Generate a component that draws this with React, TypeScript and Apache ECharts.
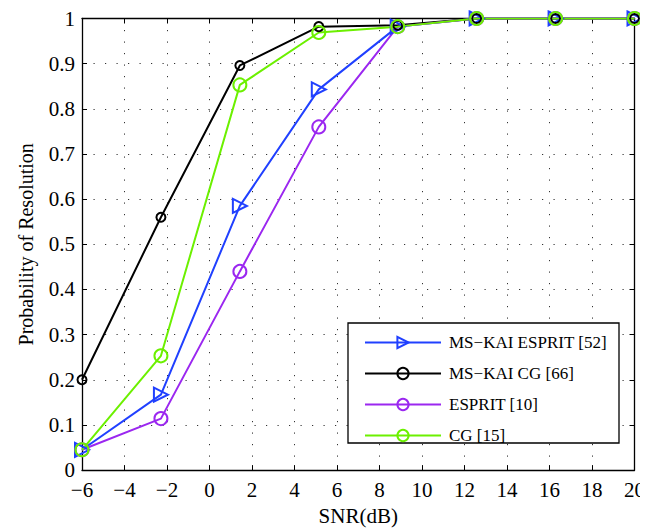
import React, { useEffect, useRef } from "react";
import * as echarts from "echarts";

// SNR sweep (dB)
const snr = [-6, -2.286, 1.429, 5.143, 8.857, 12.571, 16.286, 20];

// Probability of resolution per method
const msKaiEsprit = [0.045, 0.167, 0.585, 0.843, 0.982, 1, 1, 1];
const msKaiCg = [0.2, 0.56, 0.896, 0.982, 0.985, 1, 1, 1];
const esprit = [0.045, 0.114, 0.44, 0.76, 0.982, 1, 1, 1];
const cg = [0.045, 0.253, 0.853, 0.969, 0.982, 1, 1, 1];

const seriesNames = ["MS\u2212KAI ESPRIT [52]", "MS\u2212KAI CG [66]", "ESPRIT [10]", "CG [15]"];

const FONT = "Liberation Serif";
const TRI_RIGHT = "path://M0,0L10,5L0,10Z";

const pair = (ys: number[]) => snr.map((x, i) => [x, ys[i]]);

export default function App() {
  const ref = useRef<HTMLDivElement>(null);
  useEffect(() => {
    if (!ref.current) return;
    const chart = echarts.init(ref.current, null, { renderer: "svg" });
    const mk = (name: string, data: number[], color: string, symbol: string, size: number) => ({
      type: "line",
      name,
      data: pair(data),
      color,
      symbol,
      symbolSize: size,
      showAllSymbol: true,
      lineStyle: { color, width: 2 },
      itemStyle: { color: "rgba(255,255,255,0)", borderColor: color, borderWidth: 2 },
      emphasis: { disabled: true },
      z: 2,
    });
    const frame = { show: true, onZero: false, lineStyle: { color: "#000", width: 1.3 } };
    const ticks = { show: true, inside: true, length: 5, lineStyle: { color: "#000", width: 1 } };
    const gridLine = { show: true, lineStyle: { color: "#333", width: 1, type: [1.2, 10.3] } };
    chart.setOption({
      animation: false,
      backgroundColor: "#fff",
      // the chart div sits inside the body's 8px margin
      grid: { left: 72, top: 8, right: 2, bottom: 60 },
      xAxis: [
        {
          type: "value",
          min: -6,
          max: 20,
          interval: 2,
          name: "SNR(dB)",
          nameLocation: "middle",
          nameGap: 34,
          nameTextStyle: { fontFamily: FONT, fontSize: 21, color: "#000" },
          axisLine: frame,
          axisTick: ticks,
          axisLabel: {
            fontFamily: FONT,
            fontSize: 21,
            color: "#000",
            margin: 9,
            formatter: (v: number) => String(v).replace("-", "\u2212"),
          },
          splitLine: gridLine,
        },
        {
          type: "value",
          position: "top",
          min: -6,
          max: 20,
          interval: 2,
          axisLine: frame,
          axisTick: ticks,
          axisLabel: { show: false },
          splitLine: { show: false },
        },
      ],
      yAxis: [
        {
          type: "value",
          min: 0,
          max: 1,
          interval: 0.1,
          name: "Probability of Resolution",
          nameLocation: "middle",
          nameGap: 46,
          nameTextStyle: { fontFamily: FONT, fontSize: 20, color: "#000" },
          axisLine: frame,
          axisTick: ticks,
          axisLabel: {
            fontFamily: FONT,
            fontSize: 21,
            color: "#000",
            margin: 7,
            formatter: (v: number) => String(Math.round(v * 10) / 10),
          },
          splitLine: gridLine,
        },
        {
          type: "value",
          position: "right",
          min: 0,
          max: 1,
          interval: 0.1,
          axisLine: frame,
          axisTick: ticks,
          axisLabel: { show: false },
          splitLine: { show: false },
        },
      ],
      graphic: [
        {
          type: "rect",
          z: 10,
          shape: { x: 340, y: 315, width: 271, height: 120 },
          style: { fill: "#fff", stroke: "#000", lineWidth: 1.3 },
        },
      ],
      legend: {
        z: 20,
        orient: "vertical",
        left: 356,
        top: 326,
        padding: 0,
        itemWidth: 76,
        itemHeight: 14,
        itemGap: 14,
        textStyle: { fontFamily: FONT, fontSize: 17, color: "#000", padding: [0, 0, 0, 3] },
        data: seriesNames,
      },
      series: [
        mk(seriesNames[0], msKaiEsprit, "#2040ff", TRI_RIGHT, 14),
        mk(seriesNames[1], msKaiCg, "#000000", "circle", 9),
        mk(seriesNames[2], esprit, "#9b27f0", "circle", 13),
        mk(seriesNames[3], cg, "#6cf000", "circle", 13),
      ],
    });
    return () => chart.dispose();
  }, []);
  return <div ref={ref} style={{ width: 640, height: 523 }} />;
}
